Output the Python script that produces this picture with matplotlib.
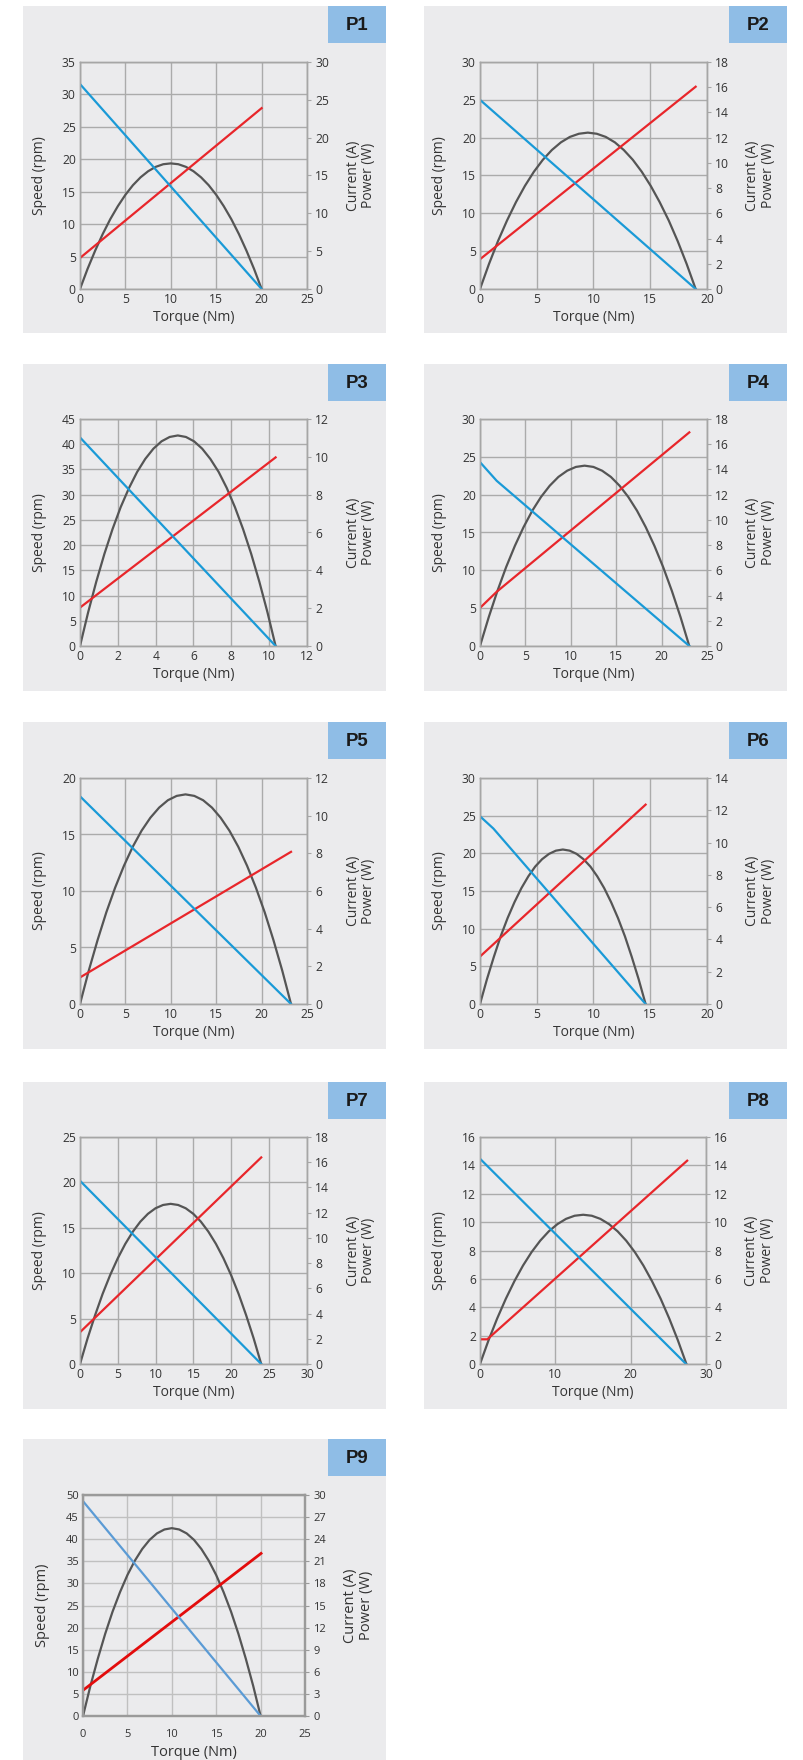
import matplotlib
matplotlib.use('Agg')
import matplotlib.pyplot as plt
from matplotlib.patches import Rectangle

plt.rcParams['font.family'] = ['Open Sans', 'DejaVu Sans']

# ---------------- data ----------------
names = ["P1", "P2", "P3", "P4", "P5", "P6", "P7", "P8", "P9"]

# P1
p1_speed_x = [0, 20];            p1_speed_y = [31.6, 0]
p1_cur_x = [0, 20];              p1_cur_y = [4.1, 23.9]
p1_pow_x = [0, 0.83, 1.67, 2.5, 3.33, 4.17, 5, 5.83, 6.67, 7.5, 8.33, 9.17, 10,
            10.83, 11.67, 12.5, 13.33, 14.17, 15, 15.83, 16.67, 17.5, 18.33, 19.17, 20]
p1_pow_y = [0, 2.65, 5.07, 7.26, 9.22, 10.95, 12.45, 13.72, 14.76, 15.56, 16.14, 16.49, 16.6,
            16.49, 16.14, 15.56, 14.76, 13.72, 12.45, 10.95, 9.22, 7.26, 5.07, 2.65, 0]
# P2
p2_speed_x = [0, 19];            p2_speed_y = [25, 0]
p2_cur_x = [0, 19];              p2_cur_y = [2.36, 16.04]
p2_pow_x = [0, 0.79, 1.58, 2.38, 3.17, 3.96, 4.75, 5.54, 6.33, 7.13, 7.92, 8.71, 9.5,
            10.29, 11.08, 11.88, 12.67, 13.46, 14.25, 15.04, 15.83, 16.63, 17.42, 18.21, 19]
p2_pow_y = [0, 1.98, 3.79, 5.43, 6.89, 8.18, 9.3, 10.25, 11.02, 11.63, 12.06, 12.31, 12.4,
            12.31, 12.06, 11.63, 11.02, 10.25, 9.3, 8.18, 6.89, 5.43, 3.79, 1.98, 0]
# P3
p3_speed_x = [0, 10.34];         p3_speed_y = [41.35, 0]
p3_cur_x = [0, 10.34];           p3_cur_y = [2.03, 9.97]
p3_pow_x = [0, 0.43, 0.86, 1.29, 1.72, 2.15, 2.59, 3.02, 3.45, 3.88, 4.31, 4.74, 5.17,
            5.6, 6.03, 6.46, 6.89, 7.33, 7.76, 8.19, 8.62, 9.05, 9.48, 9.91, 10.34]
p3_pow_y = [0, 1.78, 3.40, 4.87, 6.18, 7.34, 8.35, 9.20, 9.89, 10.43, 10.82, 11.05, 11.13,
            11.05, 10.82, 10.43, 9.89, 9.20, 8.35, 7.34, 6.18, 4.87, 3.40, 1.78, 0]
# P4
p4_speed_x = [0, 1.84, 23.05];   p4_speed_y = [24.3, 21.83, 0]
p4_cur_x = [0, 1.84, 23.05];     p4_cur_y = [3.02, 4.3, 16.94]
p4_pow_x = [0, 0.96, 1.92, 2.88, 3.84, 4.8, 5.76, 6.72, 7.68, 8.64, 9.6, 10.56, 11.52,
            12.49, 13.45, 14.41, 15.37, 16.33, 17.29, 18.25, 19.21, 20.17, 21.13, 22.09, 23.05]
p4_pow_y = [0, 2.28, 4.37, 6.26, 7.94, 9.43, 10.73, 11.82, 12.71, 13.41, 13.90, 14.20, 14.3,
            14.20, 13.90, 13.41, 12.71, 11.82, 10.73, 9.43, 7.94, 6.26, 4.37, 2.28, 0]
# P5
p5_speed_x = [0, 23.24];         p5_speed_y = [18.38, 0]
p5_cur_x = [0, 23.24];           p5_cur_y = [1.41, 8.08]
p5_pow_x = [0, 0.97, 1.94, 2.9, 3.87, 4.84, 5.81, 6.78, 7.75, 8.72, 9.68, 10.65, 11.62,
            12.59, 13.56, 14.53, 15.49, 16.46, 17.43, 18.4, 19.37, 20.34, 21.3, 22.27, 23.24]
p5_pow_y = [0, 1.78, 3.40, 4.87, 6.18, 7.34, 8.35, 9.20, 9.89, 10.43, 10.82, 11.05, 11.13,
            11.05, 10.82, 10.43, 9.89, 9.20, 8.35, 7.34, 6.18, 4.87, 3.40, 1.78, 0]
# P6
p6_speed_x = [0, 1.18, 14.59];   p6_speed_y = [24.92, 23.29, 0]
p6_cur_x = [0, 14.59];           p6_cur_y = [2.94, 12.35]
p6_pow_x = [0, 0.61, 1.22, 1.82, 2.43, 3.04, 3.65, 4.26, 4.86, 5.47, 6.08, 6.69, 7.3,
            7.9, 8.51, 9.12, 9.73, 10.33, 10.94, 11.55, 12.16, 12.77, 13.37, 13.98, 14.59]
p6_pow_y = [0, 1.53, 2.92, 4.19, 5.32, 6.31, 7.18, 7.91, 8.51, 8.97, 9.30, 9.50, 9.57,
            9.50, 9.30, 8.97, 8.51, 7.91, 7.18, 6.31, 5.32, 4.19, 2.92, 1.53, 0]
# P7
p7_speed_x = [0, 23.95];         p7_speed_y = [20.18, 0]
p7_cur_x = [0, 23.95];           p7_cur_y = [2.52, 16.38]
p7_pow_x = [0, 1, 2, 2.99, 3.99, 4.99, 5.99, 6.99, 7.98, 8.98, 9.98, 10.98, 11.98,
            12.97, 13.97, 14.97, 15.97, 16.96, 17.96, 18.96, 19.96, 20.96, 21.95, 22.95, 23.95]
p7_pow_y = [0, 2.03, 3.88, 5.56, 7.06, 8.38, 9.53, 10.5, 11.29, 11.91, 12.35, 12.61, 12.7,
            12.61, 12.35, 11.91, 11.29, 10.5, 9.53, 8.38, 7.06, 5.56, 3.88, 2.03, 0]
# P8
p8_speed_x = [0, 27.35];         p8_speed_y = [14.47, 0]
p8_cur_x = [0, 0.97, 27.5];      p8_cur_y = [1.74, 1.74, 14.33]
p8_pow_x = [0, 1.14, 2.28, 3.43, 4.57, 5.71, 6.85, 7.99, 9.13, 10.28, 11.42, 12.56, 13.7,
            14.84, 15.98, 17.13, 18.27, 19.41, 20.55, 21.69, 22.83, 23.98, 25.12, 26.26, 27.4]
p8_pow_y = [0, 1.68, 3.21, 4.60, 5.84, 6.94, 7.89, 8.69, 9.35, 9.86, 10.23, 10.45, 10.52,
            10.45, 10.23, 9.86, 9.35, 8.69, 7.89, 6.94, 5.84, 4.60, 3.21, 1.68, 0]
# P9
p9_speed_x = [0, 20];            p9_speed_y = [48.6, 0]
p9_cur_x = [0, 20.05];           p9_cur_y = [3.49, 22.07]
p9_pow_x = [0, 0.83, 1.67, 2.5, 3.33, 4.17, 5, 5.83, 6.67, 7.5, 8.33, 9.17, 10,
            10.83, 11.67, 12.5, 13.33, 14.17, 15, 15.83, 16.67, 17.5, 18.33, 19.17, 20]
p9_pow_y = [0, 4.07, 7.79, 11.16, 14.17, 16.82, 19.13, 21.07, 22.67, 23.91, 24.79, 25.32, 25.5,
            25.32, 24.79, 23.91, 22.67, 21.07, 19.13, 16.82, 14.17, 11.16, 7.79, 4.07, 0]

# axis ticks: (max, step)
x_ticks = [(25, 5), (20, 5), (12, 2), (25, 5), (25, 5), (20, 5), (30, 5), (30, 10), (25, 5)]
left_ticks = [(35, 5), (30, 5), (45, 5), (30, 5), (20, 5), (30, 5), (25, 5), (16, 2), (50, 5)]
right_ticks = [(30, 5), (18, 2), (12, 2), (18, 2), (12, 2), (14, 2), (18, 2), (16, 2), (30, 3)]

x_label = "Torque (Nm)"
left_label = "Speed (rpm)"
right_label1 = "Current (A)"
right_label2 = "Power (W)"

speed = [(p1_speed_x, p1_speed_y), (p2_speed_x, p2_speed_y), (p3_speed_x, p3_speed_y),
         (p4_speed_x, p4_speed_y), (p5_speed_x, p5_speed_y), (p6_speed_x, p6_speed_y),
         (p7_speed_x, p7_speed_y), (p8_speed_x, p8_speed_y), (p9_speed_x, p9_speed_y)]
current = [(p1_cur_x, p1_cur_y), (p2_cur_x, p2_cur_y), (p3_cur_x, p3_cur_y),
           (p4_cur_x, p4_cur_y), (p5_cur_x, p5_cur_y), (p6_cur_x, p6_cur_y),
           (p7_cur_x, p7_cur_y), (p8_cur_x, p8_cur_y), (p9_cur_x, p9_cur_y)]
power = [(p1_pow_x, p1_pow_y), (p2_pow_x, p2_pow_y), (p3_pow_x, p3_pow_y),
         (p4_pow_x, p4_pow_y), (p5_pow_x, p5_pow_y), (p6_pow_x, p6_pow_y),
         (p7_pow_x, p7_pow_y), (p8_pow_x, p8_pow_y), (p9_pow_x, p9_pow_y)]

# ---------------- layout (pixels) ----------------
W, H = 804, 1760
fig = plt.figure(figsize=(W / 100, H / 100), dpi=100)
fig.patch.set_facecolor('white')

PANEL_BG = '#ebebed'
BOX_BG = '#8fbde6'
TXT = '#333333'

panel_cols = [(23, 386), (424, 787)]
panel_tops = [6, 364, 722, 1082, 1439]
panel_h = 327
box_w, box_h = 58, 37

# plot areas (left, right, top, bottom)
plot_rects = [
    (80, 307, 62, 289), (480, 707, 62, 289),
    (80, 307, 419, 646), (480, 707, 419, 646),
    (80, 307, 778, 1004), (480, 707, 778, 1004),
    (80, 307, 1137, 1364), (480, 706, 1137, 1364),
    (83, 305, 1495, 1716),
]


def fx(x):
    return x / W


def fy(y):
    return 1 - y / H


for i, name in enumerate(names):
    row, col = divmod(i, 2)
    px0, px1 = panel_cols[col]
    top = panel_tops[row]
    bottom = min(top + panel_h, H)
    fig.add_artist(Rectangle((fx(px0), fy(bottom)), (px1 - px0) / W, (bottom - top) / H,
                             transform=fig.transFigure, facecolor=PANEL_BG,
                             edgecolor='none', zorder=0))
    fig.add_artist(Rectangle((fx(px1 - box_w), fy(top + box_h)), box_w / W, box_h / H,
                             transform=fig.transFigure, facecolor=BOX_BG,
                             edgecolor='none', zorder=1))
    fig.text(fx(px1 - box_w / 2), fy(top + box_h / 2 + 1), name, ha='center', va='center',
             fontsize=13.4, fontweight='bold', color='#1a1a1a',
             family=['Liberation Sans', 'DejaVu Sans'])

    l, r, t, b = plot_rects[i]
    ax = fig.add_axes([fx(l), fy(b), (r - l) / W, (b - t) / H])
    ax.set_facecolor('none')
    ax2 = ax.twinx()

    last = (i == 8)
    blue = '#5b9bd5' if last else '#1a9ad7'
    red = '#e30c0c' if last else '#e8262b'
    tick_fs = 8 if last else 8.7
    lab_fs = 10.5 if last else 10
    grid_c = '#c0c0c0' if last else '#ababab'
    spine_c = '#9a9a9a' if last else '#a6a6a6'
    spine_w = 1.6 if last else 1.0

    xmax, xstep = x_ticks[i]
    lmax, lstep = left_ticks[i]
    rmax, rstep = right_ticks[i]

    ax.set_xlim(0, xmax)
    ax.set_ylim(0, lmax)
    ax2.set_ylim(0, rmax)
    ax.set_xticks(list(range(0, xmax + 1, xstep)))
    ax.set_yticks(list(range(0, lmax + 1, lstep)))
    ax2.set_yticks(list(range(0, rmax + 1, rstep)))

    ax.grid(True, color=grid_c, lw=1.0)
    ax.set_axisbelow(True)
    for a in (ax, ax2):
        for s in a.spines.values():
            s.set_color(spine_c)
            s.set_linewidth(spine_w)
    ax.tick_params(axis='y', length=0, pad=3, labelsize=tick_fs, labelcolor=TXT)
    ax.tick_params(axis='x', length=0, pad=9 if last else 3, labelsize=tick_fs, labelcolor=TXT)
    ax2.tick_params(axis='y', length=3, width=0.8, color=spine_c, pad=3,
                    labelsize=tick_fs, labelcolor=TXT)

    ax2.plot(power[i][0], power[i][1], color='#555555', lw=1.6, solid_joinstyle='round')
    ax2.plot(current[i][0], current[i][1], color=red, lw=2.0 if last else 1.6)
    ax2.plot(speed[i][0], speed[i][1], color=blue, lw=1.6, transform=ax.transData)

    cy = (t + b) / 2
    fig.text(fx(l - 40), fy(cy), left_label, rotation=90, ha='center', va='center',
             fontsize=lab_fs, color=TXT)
    fig.text(fx(r + 46), fy(cy), right_label1, rotation=90, ha='center', va='center',
             fontsize=lab_fs, color=TXT)
    fig.text(fx(r + 62), fy(cy), right_label2, rotation=90, ha='center', va='center',
             fontsize=lab_fs, color=TXT)
    fig.text(fx((l + r) / 2), fy(b + (36 if last else 28)), x_label, ha='center', va='center',
             fontsize=lab_fs, color=TXT)

fig.savefig('out.png', dpi=100)
